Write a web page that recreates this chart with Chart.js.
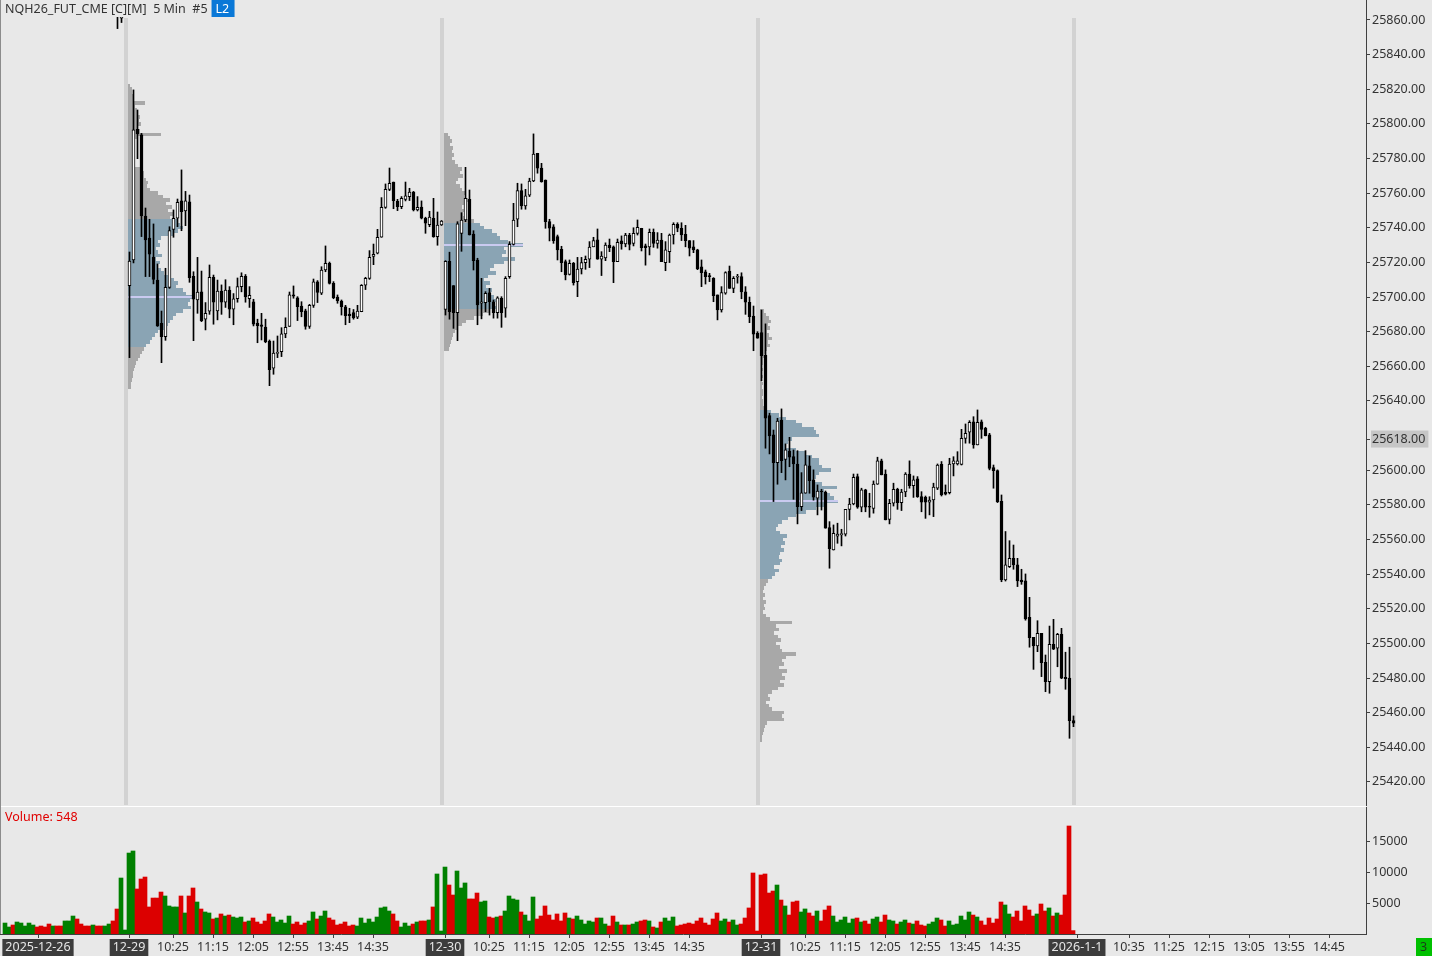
<!DOCTYPE html>
<html>
<head>
<meta charset="utf-8">
<script src="https://cdn.jsdelivr.net/npm/chart.js@4.4.1/dist/chart.umd.min.js"></script>
<style>
  html, body { margin: 0; padding: 0; background: #e8e8e8; }
  #wrap { position: relative; width: 1432px; height: 956px; overflow: hidden; }
  #priceBox { position: absolute; left: 0; top: 0; width: 1432px; height: 806px; }
  #volBox { position: absolute; left: 0; top: 806px; width: 1432px; height: 150px; }
</style>
</head>
<body>
<div id="wrap">
  <div id="priceBox"><canvas id="priceChart"></canvas></div>
  <div id="volBox"><canvas id="volChart"></canvas></div>
</div>
<script>
// ---- data: 5 min bars, rows are [open, high, low, close] ----
const ohlc1226 = [
  [25884,25890,25882,25888],[25888,25893,25886,25891],[25891,25892,25884,25886],[25886,25895,25885,25893],
  [25893,25899,25891,25897],[25897,25901,25894,25899],[25899,25905,25897,25903],[25903,25906,25899,25904],
  [25904,25905,25897,25898],[25898,25900,25893,25895],[25895,25897,25889,25891],[25891,25893,25884,25886],
  [25886,25892,25884,25890],[25890,25891,25883,25885],[25885,25887,25879,25881],[25881,25889,25880,25887],
  [25887,25894,25885,25892],[25892,25899,25890,25896],[25896,25897,25888,25890],[25890,25892,25884,25886],
  [25886,25888,25881,25884],[25884,25886,25878,25880],[25880,25886,25878,25884],[25884,25885,25877,25879],
  [25879,25881,25874,25876],[25876,25882,25875,25880],[25880,25886,25878,25884],[25884,25885,25876,25878],
  [25878,25880,25855,25872],[25861,25890,25858.5,25880],[25880,25882,25879,25881]
];
const ohlc1229 = [
  [25706.6,25726,25665,25720.8],[25721.4,25819.6,25719.7,25796.5],[25796.9,25808,25779.9,25794.2],[25793.6,25794.5,25734.9,25746.8],
  [25746.8,25751.4,25711.8,25733],[25734,25744.9,25711.8,25724.7],[25723.1,25742.2,25707.6,25710.2],[25709.8,25719.1,25683,25683.3],
  [25684.8,25691.9,25662.1,25677.1],[25677.1,25716.6,25675,25705.6],[25705.6,25740.6,25705,25738.3],[25739.1,25750.3,25734.5,25745.5],
  [25745.5,25756.6,25740.6,25754.7],[25755.5,25773.4,25738.3,25749.3],[25749.7,25761,25741.2,25755.5],[25754.9,25758.9,25708.5,25711.2],
  [25712,25714.6,25674.8,25698.7],[25698.3,25722.9,25690.6,25702.8],[25703,25715,25685.8,25686.4],[25687.2,25696.8,25681,25690.6],
  [25691.8,25718.5,25690,25711.4],[25711.4,25712.7,25684.3,25697],[25692,25709.8,25686.8,25703.5],[25703.5,25707,25690,25697],
  [25697,25710,25694,25704],[25704,25706,25688,25693],[25693,25702,25684,25699],[25699,25711,25697,25706],
  [25706,25714,25703,25712],[25712,25713,25697,25700],[25699,25706,25694,25701],[25697.3,25698.7,25683.3,25684.4],
  [25685,25687.2,25673.6,25683.5],[25684,25690.6,25675.2,25683],[25682.7,25687.2,25673.6,25674.2],[25674.6,25675.2,25648.8,25658.1],
  [25658.9,25674.6,25655.4,25667.7],[25667.5,25677.5,25665,25667.9],[25668.4,25682.3,25665.6,25678.7],[25678.7,25688,25676.5,25682.5],
  [25683,25702.9,25683,25701.2],[25701.2,25706.4,25699.3,25700.5],[25699.5,25700.2,25686.4,25694.4],[25694.8,25697.3,25688.6,25691.5],
  [25692,25693,25681.4,25683],[25683,25695.8,25681.9,25695.2],[25695.2,25710.4,25694,25708.8],[25708.8,25709.5,25696.8,25702.7],
  [25702.2,25717.5,25701.4,25715.6],[25715.6,25729.5,25714.6,25719.5],[25719.5,25720.2,25707.5,25707.9],[25707.9,25708.9,25699,25699.6],
  [25700,25701.2,25696.4,25697.9],[25697.7,25698.3,25689.6,25694.4],[25694.4,25695.2,25684,25689.2],[25690.2,25693.5,25685.2,25689.2],
  [25691,25692.8,25687.2,25687.9],[25688.3,25695.2,25687.5,25691.9],[25691.5,25707.2,25691.5,25706.8],[25706.8,25711.4,25704.3,25710.8],
  [25710.8,25726.8,25710.2,25722.9],[25723.5,25730.6,25718.7,25724.7],[25725.3,25739.1,25724.9,25734.5],[25734.5,25757.4,25734.5,25751.8],
  [25751.8,25765.3,25751.2,25762.2],[25762.2,25774.5,25761.4,25765.7],[25766.4,25766.4,25751,25755.7],[25755.3,25756.4,25749.9,25752.2],
  [25752.2,25758,25751,25757],[25756.4,25766.4,25755.5,25758.4],[25757.9,25762.8,25755.7,25760.6],[25760.6,25761,25749.7,25750.3],
  [25750.3,25758,25749.7,25751.8],[25752,25755.5,25745.1,25745.5],[25745.5,25746.1,25736.8,25742.6],[25741.8,25749.5,25740.6,25746.1],
  [25745.5,25757,25734.5,25734.9],[25734.9,25749.1,25729.9,25741.5],[25741.7,25744.2,25741.3,25743.8]
];
const ohlc1230 = [
  [25692.9,25721,25689.6,25720.6],[25720.6,25725.9,25687.2,25691.5],[25706.6,25706.6,25681.9,25691],[25691,25743.5,25674.8,25742.2],
  [25736.8,25748.7,25726.4,25744.5],[25744.5,25774.9,25743.5,25757],[25756.4,25761.8,25735.8,25735.8],[25736.4,25738.3,25715.6,25721],
  [25721.4,25722.4,25684,25695.5],[25696.4,25710.8,25687.4,25697.3],[25696.8,25703.1,25691.5,25702.2],[25702.5,25705,25689.6,25697.3],
  [25697.3,25698.3,25687.8,25691],[25691,25700.2,25687.8,25699.6],[25699.3,25700.2,25682.5,25691],[25693.5,25711.8,25688.3,25710.8],
  [25711.8,25732,25710.8,25730.4],[25730.4,25754.1,25730,25744.5],[25744.9,25765.7,25740.6,25761.4],[25761.4,25765.3,25750.7,25752.6],
  [25752.6,25762.2,25750.7,25758.4],[25758.8,25768.6,25758,25766.9],[25767,25794.2,25766.6,25782.6],[25783,25783,25771.5,25774.4],
  [25774.4,25777.2,25766.3,25766.6],[25767.6,25767.6,25739.7,25743.5],[25743.5,25744.9,25732.4,25739.7],[25740.6,25741.8,25731,25732.6],
  [25734.9,25735.8,25721.4,25727.2],[25727.6,25729.3,25714.6,25719.9],[25720.4,25721.4,25709.9,25712.7],[25713.1,25721.4,25712.7,25719.5],
  [25719.5,25720,25706.9,25708.3],[25708.9,25722.9,25700.2,25716.2],[25716.2,25722.9,25713.3,25719.9],[25719.9,25723.7,25716,25721.8],
  [25721.8,25732,25717,25728.8],[25729,25734.5,25729,25732.6],[25733,25739.3,25721.8,25721.8],[25721.8,25726.2,25712.4,25723.7],
  [25722.6,25731.3,25721,25730],[25730,25733.5,25726.2,25728.5],[25729,25729.5,25708.3,25720.4],[25720.4,25733.5,25720.4,25731.6],
  [25732.4,25735.3,25727.6,25730.6],[25730.6,25736.8,25729,25735.8],[25735.8,25736.8,25727.2,25730.4],[25731,25740,25729.5,25736.8],
  [25736.8,25744.5,25735.8,25740.2],[25739.7,25739.7,25726.6,25728.5],[25729.5,25730.6,25718.4,25728.5],[25729,25739.3,25724.3,25737.4],
  [25737.4,25739.3,25728.7,25731],[25731,25737.2,25728.2,25732.9],[25732.9,25736.8,25720.4,25720.4],[25719.9,25732,25715.2,25727.2],
  [25726.2,25736.4,25719.9,25735.8],[25735.8,25742.9,25730.6,25742],[25742,25742.9,25737.7,25739.7],[25739.7,25742.9,25732.6,25735.8],
  [25736.2,25741.4,25729,25732.6],[25732.6,25732.6,25723.7,25728.2],[25729,25732.6,25725.6,25727.2],[25727.2,25727.6,25715.8,25716.2],
  [25717.5,25721.4,25706,25714],[25714.6,25715.6,25707.5,25711.8],[25712.4,25713.7,25708.9,25711.8],[25710.8,25711.2,25697.3,25700.8],
  [25701.2,25701.2,25686.8,25692.5],[25692.5,25706,25691.3,25702.5],[25702.2,25714.6,25701.6,25714.1],[25715,25717.9,25705,25705],
  [25705,25711.8,25702.5,25710.8],[25711.4,25713.1,25708,25711.8],[25711.8,25714,25699,25703],[25703,25706,25690,25697],
  [25697,25700,25685.2,25688.7],[25689,25694.8,25669,25678.5],[25679,25680,25676.2,25676.2]
];
const ohlc1231 = [
  [25679.4,25692.5,25651.7,25666.1],[25666.5,25684.5,25612.7,25630],[25631.5,25632.9,25609.4,25619.8],[25620.4,25623.2,25581.9,25604.3],
  [25604.3,25630,25591.9,25628.4],[25629,25635.4,25598.6,25605.5],[25606.3,25615.2,25594.4,25611.7],[25611.1,25619,25602,25607.5],
  [25607.8,25611.7,25583.2,25603.6],[25603.6,25611.3,25569,25579],[25579,25598.6,25576.7,25587],[25586.7,25611.3,25586.7,25603.1],
  [25602.5,25608.2,25586.7,25594],[25594.4,25600.2,25582.7,25584.4],[25583.8,25591.5,25574.2,25588],[25588,25589,25577,25587.4],
  [25587.4,25588,25566.5,25566.5],[25566.8,25570.3,25543.4,25554.7],[25553.9,25568.4,25553.9,25563.6],[25561.9,25569.4,25557.8,25563.1],
  [25562.7,25565.9,25556.3,25563.4],[25563,25577.4,25562,25577.4],[25577.4,25583.8,25571.3,25580.5],[25580.5,25597.8,25580,25595.9],
  [25596.3,25597.8,25578,25578.6],[25578.6,25589.6,25576,25588.6],[25588.6,25589,25576,25578.6],[25579.2,25586.7,25572.8,25578.6],
  [25578,25593.8,25575.2,25592],[25592,25607.5,25591.8,25605.4],[25605.4,25606.4,25597.3,25597.3],[25597.8,25600.2,25571.3,25571.3],
  [25571.6,25583.2,25569,25580.9],[25580.9,25592.5,25579.3,25589],[25589,25589.6,25577.4,25581.3],[25581.3,25589,25576.7,25587.4],
  [25587.4,25598.6,25584.7,25597.8],[25597.8,25605.4,25589.6,25591],[25591,25596.7,25584.3,25594.4],[25595,25596.3,25584.3,25584.7],
  [25584.7,25587.6,25576,25581.5],[25584.3,25585.1,25572.2,25581.5],[25581.5,25584.7,25574.2,25582.8],[25582.8,25592.5,25573.2,25590.2],
  [25589.6,25603.6,25588.8,25602.9],[25603.4,25605,25585.1,25585.7],[25587.2,25591.5,25585.7,25586.1],[25587,25606.9,25586.3,25603.6],
  [25603.6,25607.8,25596.7,25605.4],[25603.6,25610.7,25603,25605.4],[25603.4,25623.6,25603,25618.4],[25618.4,25626.7,25615.6,25621.3],
  [25621.9,25628.6,25615.6,25627.7],[25627.9,25630.9,25612.7,25614.6],[25614.6,25634.8,25614.6,25627.7],[25628,25629,25618.4,25623.6],
  [25624.2,25624.8,25619.8,25620],[25620.4,25621.3,25600.2,25601.1],[25601.5,25603,25589.6,25599.8],[25599.8,25600.2,25581.3,25581.9],
  [25582.1,25585.7,25535.6,25536.6],[25536.6,25564.6,25536,25545.3],[25544.3,25559.3,25543.8,25549.1],[25549.1,25556.8,25542.8,25545.3],
  [25545.3,25549.1,25532.8,25536.1],[25536.6,25542.8,25534.1,25535.5],[25536.1,25540.1,25513.4,25514.1],[25515.1,25526.6,25497.8,25503.3],
  [25503.5,25503.5,25485,25498.5],[25498.5,25513.1,25495.2,25505.8],[25505.8,25505.8,25480.8,25488.9],[25489.1,25493.3,25472.1,25477.9],
  [25477.9,25510,25471.2,25499.5],[25499.5,25513.9,25496.4,25496.6],[25497.2,25505.8,25486.5,25505.2],[25505.2,25508.7,25479.6,25479.9],
  [25480.4,25494.9,25473.5,25479.6],[25479.9,25497.8,25445.2,25455.4],[25455.4,25458.1,25451.9,25453.9]
];

const vol1226 = [1770,1130,1450,1935,1770,1290,1770,1450,1130,1290,1130,1610,1290,1290,1290,2100,2100,2900,2420,1610,
  1290,1290,1450,1290,1290,1290,1610,2100,4030,9030,645];
const vol1229 = [13060,13390,7260,8870,9190,4360,5800,5800,6770,6130,4520,4360,4360,6130,3390,6130,7420,5160,4030,3550,
  3390,2420,2580,3230,2900,3060,2740,2580,2740,1935,2100,2580,1935,1610,2100,3230,2740,1935,2260,1770,
  2900,1610,1935,1450,1770,2100,3550,2420,2900,3710,2580,2260,1450,1610,1935,1290,1450,1290,2580,1770,
  2420,1935,2740,4200,4360,3710,3230,2100,1130,1770,1290,1610,1935,2100,2100,2260,4360,9680,480];
const vol1230 = [10800,7900,6290,10160,7420,8230,5650,5650,6610,5160,5320,2740,2580,2740,2900,3710,6130,5650,5480,3550,
  3060,2100,5970,2420,2900,4520,3060,2260,3230,2100,3390,2580,2420,2900,2260,1610,2100,1935,2580,2580,
  1610,1290,2900,1935,1450,1450,1450,1610,1935,2100,2260,2100,1130,970,1935,2580,2100,2740,1290,1450,
  1610,1770,1610,2100,2580,1770,1450,2420,3390,2100,2420,1935,2260,1450,1610,2580,4200,9840,480];
const vol1231 = [9520,9680,6610,6930,7900,5480,4520,3060,5160,5320,3550,4040,3390,2900,3710,2100,3870,4520,2900,1935,
  2260,2740,1770,2420,2580,1935,2100,1610,2420,2740,1935,3060,2260,2100,1610,1935,2260,1770,1610,2100,
  1450,1290,1610,1935,2580,2260,1290,2100,1450,1610,2900,2260,3550,3060,2740,2100,1450,2580,1770,2420,
  5160,4680,3230,2740,3710,2100,4520,3870,2900,3230,4840,3710,4200,2900,3390,3060,6290,17420,548];

// session starts (bar index) and axis labels
const sessionStarts = [31, 110, 189, 268];
const timeTickIdx  = [8.25, 31, 42, 52, 62, 72, 82, 92, 110, 121, 131, 141, 151, 161, 171,
                      189, 200, 210, 220, 230, 240, 250, 268, 281, 291, 301, 311, 321, 331];
const timeTickText = ['2025-12-26', '12-29', '10:25', '11:15', '12:05', '12:55', '13:45', '14:35',
                      '12-30', '10:25', '11:15', '12:05', '12:55', '13:45', '14:35',
                      '12-31', '10:25', '11:15', '12:05', '12:55', '13:45', '14:35',
                      '2026-1-1', '10:35', '11:25', '12:15', '13:05', '13:55', '14:45'];
const dateTicks = ['2025-12-26', '12-29', '12-30', '12-31', '2026-1-1'];
const priceTicks = [25420,25440,25460,25480,25500,25520,25540,25560,25580,25600,25618,25640,25660,25680,
                    25700,25720,25740,25760,25780,25800,25820,25840,25860];
const lastPrice = 25618;
const volTicks = [5000, 10000, 15000];
const lastVolume = 548;

// volume profiles per session, 2 point rows from the top price downwards (hundreds of contracts)
const profileStep = 2;
const prof1Top = 25822;
const prof1Vol = [2,4,4,5,6,17,7,9,10,12,11,13,10,12,33,9,7,6,5,6,5,6,5,7,14,16,16,18,20,19,22,30,35,42,38,44,40,45,42,
  50,52,55,50,45,33,30,32,28,30,34,28,32,30,33,36,40,46,50,48,55,58,65,62,60,63,55,48,45,42,40,36,30,27,24,22,18,16,14,12,
  10,8,7,6,5,5,4,3,3];
const prof1VA = [25672, 25745], prof1Poc = 25700;
const prof2Top = 25794;
const prof2Vol = [4,6,8,6,9,8,10,8,11,14,18,16,19,14,12,16,18,22,20,24,21,18,22,19,23,30,36,40,48,53,56,64,79,60,62,
  58,71,60,50,46,52,44,40,46,42,48,44,50,53,49,52,45,39,30,22,18,13,11,9,8,7,6,5];
const prof2VA = [25693, 25742], prof2Poc = 25730;
const prof3Top = 25692;
const prof3Vol = [4,6,9,11,8,10,7,9,12,8,10,7,6,4,3,3,2,3,2,3,2,3,2,3,3,2,3,3,4,11,19,26,36,42,54,56,59,32,28,26,
  36,45,52,59,59,62,71,59,56,54,62,77,64,70,74,78,64,56,46,36,28,22,18,16,20,27,23,25,21,24,20,19,22,20,14,19,15,12,8,6,
  4,3,5,3,6,4,5,3,6,10,32,16,19,14,18,21,16,20,22,36,26,22,24,19,27,22,25,20,24,18,12,8,10,6,9,12,24,22,24,7,5,4,3,2,2];
const prof3VA = [25537, 25634.5], prof3Poc = 25582;

// ---- build ----
const candles = [...ohlc1226, ...ohlc1229, ...ohlc1230, ...ohlc1231];
const volumes = [...vol1226, ...vol1229, ...vol1230, ...vol1231];
const isUp = candles.map(r => r[3] >= r[0]);

const profiles = [
  { start: sessionStarts[0], top: prof1Top, vols: prof1Vol, va: prof1VA, poc: prof1Poc },
  { start: sessionStarts[1], top: prof2Top, vols: prof2Vol, va: prof2VA, poc: prof2Poc },
  { start: sessionStarts[2], top: prof3Top, vols: prof3Vol, va: prof3VA, poc: prof3Poc }
];

Chart.defaults.font.family = "'Noto Sans', 'Open Sans', sans-serif";
Chart.defaults.font.size = 12.5;
Chart.defaults.color = '#333333';
Chart.defaults.animation = false;

const AXIS = '#404040';
const AXIS_W = 66;

// keep axes from reserving room for half labels
function noPad(axis) {
  axis.paddingTop = 0;
  axis.paddingBottom = 0;
  axis.paddingLeft = 0;
  axis.paddingRight = 0;
}

const priceOverlay = {
  id: 'priceOverlay',
  beforeDatasetsDraw(chart) {
    const { ctx, chartArea, scales: { x, y } } = chart;
    ctx.save();
    ctx.beginPath();
    ctx.rect(chartArea.left, chartArea.top, chartArea.width, chartArea.height);
    ctx.clip();

    // session separators
    ctx.fillStyle = '#d2d2d2';
    sessionStarts.forEach(s => {
      const px = Math.round(x.getPixelForValue(s - 0.875));
      ctx.fillRect(px - 2, chartArea.top + 1, 4, chartArea.height - 2);
    });

    // volume profiles
    profiles.forEach(p => {
      const x0 = x.getPixelForValue(p.start) - 1.5;
      p.vols.forEach((v, k) => {
        const price = p.top - k * profileStep;
        const y1 = Math.round(y.getPixelForValue(price + profileStep / 2));
        const y2 = Math.round(y.getPixelForValue(price - profileStep / 2));
        ctx.fillStyle = (price >= p.va[0] && price <= p.va[1]) ? '#8aa4b4' : '#a8a8a8';
        ctx.fillRect(x0, y1, v, y2 - y1);
      });
      const yp = Math.round(y.getPixelForValue(p.poc));
      ctx.fillStyle = '#cacaf0';
      ctx.fillRect(x0, yp - 1, Math.max(...p.vols), 2);
    });
    ctx.restore();
  },
  afterDraw(chart) {
    const { ctx, chartArea } = chart;
    ctx.save();
    ctx.fillStyle = AXIS;
    ctx.fillRect(chartArea.right, 0, 1, chartArea.top + 1);
    ctx.fillStyle = '#8c8c8c';
    ctx.fillRect(0, 0, 1, chartArea.bottom);
    ctx.font = "12.5px 'Noto Sans', sans-serif";
    ctx.textBaseline = 'middle';
    ctx.fillStyle = '#333333';
    const title = 'NQH26_FUT_CME [C][M]  5 Min  #5';
    ctx.fillText(title, 5, 9);
    const tw = ctx.measureText(title).width;
    const bx = 5 + tw + 4;
    ctx.fillStyle = '#0a78d7';
    ctx.fillRect(bx, 0, 23, 17);
    ctx.fillStyle = '#ffffff';
    ctx.fillText('L2', bx + 4, 9);
    ctx.restore();
  }
};

const volOverlay = {
  id: 'volOverlay',
  afterDraw(chart) {
    const { ctx, chartArea } = chart;
    ctx.save();
    ctx.fillStyle = '#ffffff';
    ctx.fillRect(0, 0, chartArea.right, 1);
    ctx.fillStyle = '#8c8c8c';
    ctx.fillRect(0, 0, 1, chartArea.bottom);
    ctx.font = "12.5px 'Noto Sans', sans-serif";
    ctx.textBaseline = 'middle';
    ctx.fillStyle = '#e00000';
    ctx.fillText('Volume: ' + lastVolume, 5, 11);
    ctx.fillStyle = '#00c000';
    ctx.fillRect(1416, chart.height - 18, 16, 18);
    ctx.fillStyle = '#1a3a1a';
    ctx.fillText('3', 1420, chart.height - 9);
    ctx.restore();
  }
};

// price pane
new Chart(document.getElementById('priceChart'), {
  type: 'bar',
  data: {
    datasets: [
      {
        label: 'body',
        data: candles.map((r, i) => ({ x: i, y: [r[0], r[3]] })),
        backgroundColor: isUp.map(u => u ? '#ffffff' : '#000000'),
        borderColor: '#000000',
        borderWidth: 1,
        borderSkipped: false,
        barThickness: 3,
        minBarLength: 1,
        grouped: false,
        order: 0
      },
      {
        label: 'wick',
        data: candles.map((r, i) => ({ x: i, y: [r[2], r[1]] })),
        backgroundColor: '#000000',
        borderWidth: 0,
        barThickness: 1,
        minBarLength: 1,
        grouped: false,
        order: 1
      }
    ]
  },
  options: {
    responsive: true,
    maintainAspectRatio: false,
    devicePixelRatio: 1,
    layout: { padding: { top: 17, left: 0, right: 0, bottom: 0 }, autoPadding: false },
    plugins: { legend: { display: false }, tooltip: { enabled: false } },
    scales: {
      x: { type: 'linear', min: -1.375, max: 340.125, offset: false, display: false },
      y: {
        position: 'right',
        min: 25406.1,
        max: 25861.7,
        bounds: 'data',
        afterBuildTicks: axis => { axis.ticks = priceTicks.map(v => ({ value: v })); },
        afterFit: axis => { axis.width = AXIS_W; noPad(axis); },
        border: { display: true, color: AXIS },
        grid: { drawOnChartArea: false, drawTicks: true, tickLength: 4, color: AXIS },
        ticks: {
          autoSkip: false,
          padding: 2,
          color: '#333333',
          callback: v => v.toFixed(2),
          showLabelBackdrop: c => c.tick && c.tick.value === lastPrice,
          backdropColor: '#c6c6c6',
          backdropPadding: { left: 1, right: 3, top: 1, bottom: 1 }
        }
      }
    }
  },
  plugins: [priceOverlay]
});

// volume pane
new Chart(document.getElementById('volChart'), {
  type: 'bar',
  data: {
    datasets: [{
      label: 'Volume',
      data: volumes.map((v, i) => ({ x: i, y: v })),
      backgroundColor: isUp.map(u => u ? '#008000' : '#dc0000'),
      borderWidth: 0,
      barThickness: 4,
      grouped: false
    }]
  },
  options: {
    responsive: true,
    maintainAspectRatio: false,
    devicePixelRatio: 1,
    layout: { padding: { top: 1, left: 0, right: 0, bottom: 0 }, autoPadding: false },
    plugins: { legend: { display: false }, tooltip: { enabled: false } },
    scales: {
      x: {
        type: 'linear',
        min: -1.25,
        max: 340.25,
        offset: false,
        bounds: 'data',
        afterBuildTicks: axis => { axis.ticks = timeTickIdx.map(v => ({ value: v })); },
        afterFit: axis => { axis.height = 22; noPad(axis); },
        border: { display: true, color: AXIS },
        grid: { drawOnChartArea: false, drawTicks: true, tickLength: 4, color: AXIS, offset: false },
        ticks: {
          autoSkip: false,
          maxRotation: 0,
          padding: 2,
          callback: (v, k) => timeTickText[k],
          color: c => dateTicks.includes(timeTickText[c.index]) ? '#e6e6e6' : '#333333',
          showLabelBackdrop: c => dateTicks.includes(timeTickText[c.index]),
          backdropColor: '#3c3c3c',
          backdropPadding: { left: 3, right: 3, top: 1, bottom: 1 }
        }
      },
      y: {
        position: 'right',
        min: 0,
        max: 20484,
        bounds: 'data',
        afterBuildTicks: axis => { axis.ticks = volTicks.map(v => ({ value: v })); },
        afterFit: axis => { axis.width = AXIS_W; noPad(axis); },
        border: { display: true, color: AXIS },
        grid: { drawOnChartArea: false, drawTicks: true, tickLength: 4, color: AXIS },
        ticks: { autoSkip: false, padding: 2, color: '#333333', callback: v => String(v) }
      }
    }
  },
  plugins: [volOverlay]
});
</script>
</body>
</html>
